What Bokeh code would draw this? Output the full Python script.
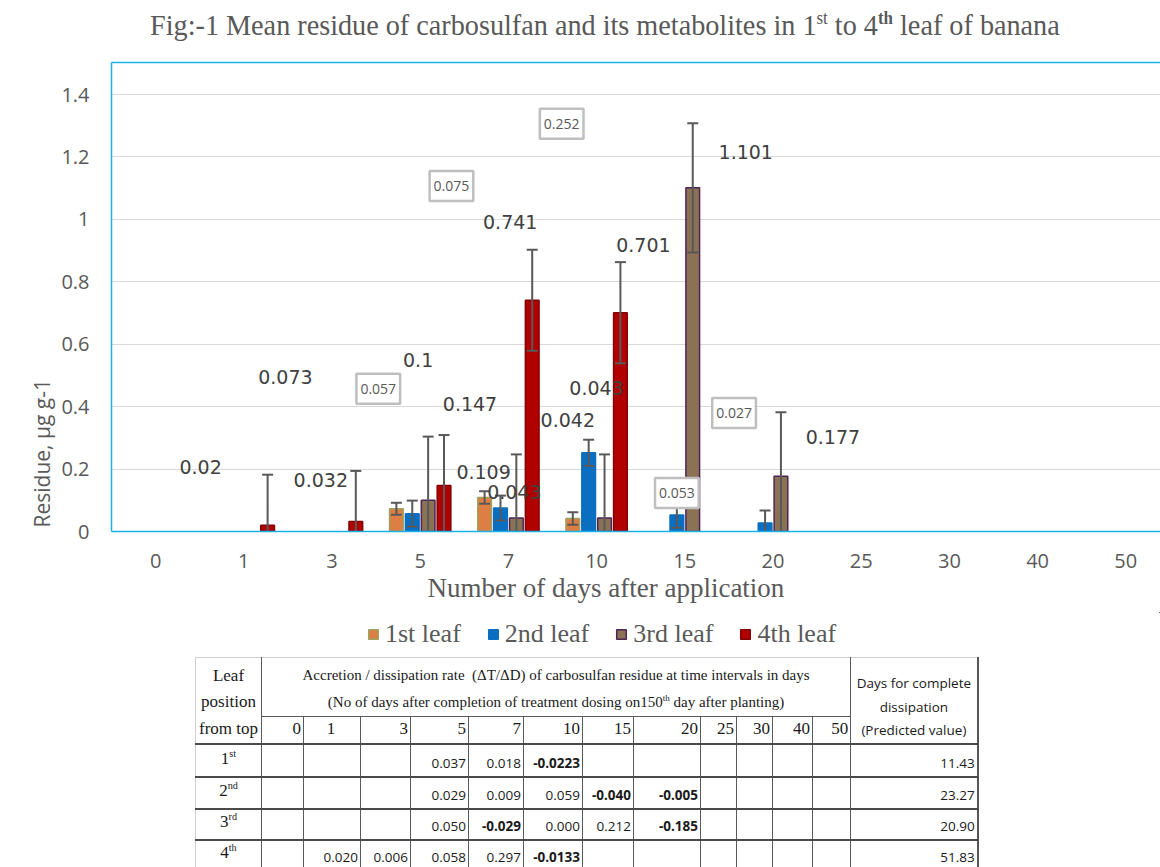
from bokeh.plotting import figure
from bokeh.models import (ColumnDataSource, Whisker, TeeHead, Label, Legend, LegendItem,
                          Div, LinearAxis, FixedTicker, Range1d, NumeralTickFormatter, Title)
from bokeh.layouts import column
from bokeh.embed import file_html
from bokeh.resources import INLINE

# ---------------- data ----------------
days = ["0", "1", "3", "5", "7", "10", "15", "20", "25", "30", "40", "50"]
leaves = ["1st leaf", "2nd leaf", "3rd leaf", "4th leaf"]

leaf_1st = [None, None, None, 0.073, 0.109, 0.042, None, None, None, None, None, None]
leaf_2nd = [None, None, None, 0.057, 0.075, 0.252, 0.053, 0.027, None, None, None, None]
leaf_3rd = [None, None, None, 0.100, 0.043, 0.043, 1.101, 0.177, None, None, None, None]
leaf_4th = [None, 0.020, 0.032, 0.147, 0.741, 0.701, None, None, None, None, None, None]

err_1st = [None, None, None, 0.019, 0.020, 0.020, None, None, None, None, None, None]
err_2nd = [None, None, None, 0.042, 0.040, 0.042, 0.041, 0.040, None, None, None, None]
err_3rd = [None, None, None, 0.204, 0.204, 0.204, 0.207, 0.205, None, None, None, None]
err_4th = [None, 0.162, 0.162, 0.162, 0.162, 0.162, None, None, None, None, None, None]

y_ticks = [0, 0.2, 0.4, 0.6, 0.8, 1.0, 1.2, 1.4]

title_main = "Fig:-1 Mean residue of carbosulfan and its metabolites in "
x_title = "Number of days after application"
y_title = "Residue, µg g-1"

# table data
row_labels = [("1", "st"), ("2", "nd"), ("3", "rd"), ("4", "th")]
rate_1st = ["", "", "", "0.037", "0.018", "-0.0223", "", "", "", "", "", ""]
rate_2nd = ["", "", "", "0.029", "0.009", "0.059", "-0.040", "-0.005", "", "", "", ""]
rate_3rd = ["", "", "", "0.050", "-0.029", "0.000", "0.212", "-0.185", "", "", "", ""]
rate_4th = ["", "0.020", "0.006", "0.058", "0.297", "-0.0133", "", "", "", "", "", ""]
days_complete = ["11.43", "23.27", "20.90", "51.83"]

# ---------------- style ----------------
BLUE = "#1DB0E6"
fills = ["#DD7F45", "#0A6FC0", "#8C7254", "#B00000"]
lines = ["#9DA35C", "#0A6FC0", "#4E2456", "#850000"]
dodge = [-0.27, -0.09, 0.09, 0.27]
bar_w = 0.155
PX_CAT = 88.2      # pixels per category
PX_UNIT = 312.14   # pixels per y unit
boxed = [False, True, False, False]

# label offsets (px) relative to bar top: series -> {day index: (dx, dy)}
label_off = [
    {3: (-111, 132), 4: (-1, 25), 5: (-5, 98)},
    {3: (-34, 125), 4: (-49, 322), 5: (-27, 329), 6: (0, 22), 7: (-31, 110)},
    {3: (-10, 140), 4: (-2, 26), 5: (-8, 130), 6: (53, 36), 7: (52, 39)},
    {1: (-67, 58), 2: (-35, 42), 3: (26, 82), 4: (-22, 78), 5: (23, 68)},
]

W = 1160
p = figure(width=W, height=562,
           x_range=Range1d(-0.5, -0.5 + (W - 111) / PX_CAT),
           y_range=Range1d(0, 469 / PX_UNIT),
           output_backend="svg", toolbar_location=None,
           min_border_left=111, min_border_right=0, min_border_top=12, min_border_bottom=81)
p.outline_line_color = None
p.background_fill_color = "white"
p.border_fill_color = "white"

p.xgrid.visible = False
p.ygrid.ticker = FixedTicker(ticks=y_ticks)
p.ygrid.grid_line_color = "#D9D9D9"
p.ygrid.grid_line_width = 1.2

p.yaxis.ticker = FixedTicker(ticks=y_ticks)
p.yaxis.formatter = NumeralTickFormatter(format="0.[0]")
p.xaxis.ticker = FixedTicker(ticks=list(range(len(days))))
p.xaxis.major_label_overrides = {i: d for i, d in enumerate(days)}
for ax in (p.xaxis, p.yaxis):
    ax.major_tick_line_color = None
    ax.minor_tick_line_color = None
    ax.major_tick_out = 0
    ax.major_tick_in = 0
    ax.axis_line_color = BLUE
    ax.axis_line_width = 1.5
    ax.major_label_text_font = "Open Sans"
    ax.major_label_text_font_size = "20px"
    ax.major_label_text_color = "#595959"
p.yaxis.major_label_standoff = 22
p.xaxis.major_label_standoff = 22

top_axis = LinearAxis(ticker=FixedTicker(ticks=[]), axis_line_color=BLUE, axis_line_width=1.5,
                      major_tick_line_color=None, minor_tick_line_color=None,
                      major_label_text_font_size="0px", major_tick_out=0, major_label_standoff=0)
p.add_layout(top_axis, "above")

series = [leaf_1st, leaf_2nd, leaf_3rd, leaf_4th]
errors = [err_1st, err_2nd, err_3rd, err_4th]
sources = []
for k, (vals, errs) in enumerate(zip(series, errors)):
    xs, tops = [], []
    wa = dict(x=[], up=[], lo=[])
    wb = dict(x=[], up=[], lo=[])
    for i, (v, e) in enumerate(zip(vals, errs)):
        if v is None:
            continue
        xs.append(i + dodge[k])
        tops.append(v)
        if v - e >= 0:
            wa["x"].append(i + dodge[k]); wa["up"].append(v + e); wa["lo"].append(v - e)
        else:
            wb["x"].append(i + dodge[k]); wb["up"].append(v + e); wb["lo"].append(0)
    src = ColumnDataSource(dict(x=xs, top=tops))
    sources.append(src)
    p.vbar(x="x", top="top", width=bar_w, source=src, fill_color=fills[k],
           line_color=lines[k], line_width=1.5)
    for wd, low_head in ((wa, True), (wb, False)):
        if not wd["x"]:
            continue
        w = Whisker(base="x", upper="up", lower="lo", source=ColumnDataSource(wd),
                    dimension="height", line_color="#595959", line_width=2, level="glyph",
                    upper_head=TeeHead(size=11, line_color="#595959", line_width=2),
                    lower_head=TeeHead(size=11, line_color="#595959", line_width=2) if low_head else None)
        p.add_layout(w)

# data labels
for k, vals in enumerate(series):
    for i, v in enumerate(vals):
        if v is None or i not in label_off[k]:
            continue
        dx, dy = label_off[k][i]
        if boxed[k]:
            lab = Label(x=i + dodge[k], y=v, x_offset=dx, y_offset=dy, text=f"{v:g}",
                        text_align="center", text_baseline="middle",
                        text_font="Open Sans", text_font_size="14px", text_color="#595959",
                        background_fill_color="white", border_line_color="#BFBFBF",
                        border_line_width=2.5, padding=(4, 10))
        else:
            lab = Label(x=i + dodge[k], y=v, x_offset=dx, y_offset=dy, text=f"{v:g}",
                        text_align="center", text_baseline="middle",
                        text_font="DejaVu Sans", text_font_size="19px", text_color="#404040")
        p.add_layout(lab)

# axis titles (side-panel titles)
p.add_layout(Title(text=x_title, align="left", offset=427 - 111, standoff=0,
                   text_font="Liberation Serif", text_font_size="27px", text_color="#595959",
                   text_font_style="normal"), "below")
p.add_layout(Title(text=y_title, align="left", offset=4, standoff=6,
                   text_font="Open Sans", text_font_size="21px", text_color="#595959",
                   text_font_style="normal"), "left")

# ---------------- legend (own strip; proxies share the bar sources, drawn off-range) ----------------
lf = figure(width=W, height=43, x_range=Range1d(-100, -99), y_range=Range1d(-100, -99),
            output_backend="svg", toolbar_location=None, x_axis_type=None, y_axis_type=None,
            min_border=0, min_border_left=0, min_border_right=0, min_border_top=0, min_border_bottom=0)
lf.outline_line_color = None
lf.xgrid.visible = False
lf.ygrid.visible = False
items = []
for k in range(4):
    r = lf.vbar(x="x", top="top", width=bar_w, source=sources[k], fill_color=fills[k],
                line_color=lines[k], line_width=1.5)
    items.append(LegendItem(label=leaves[k], renderers=[r]))
legend = Legend(items=items, orientation="horizontal", location=(367 - 111, 6),
                label_text_font="Liberation Serif", label_text_font_size="26px",
                label_text_color="#595959", glyph_width=12, glyph_height=12,
                label_standoff=6, spacing=26, padding=0, margin=0,
                border_line_color=None, background_fill_alpha=0)
lf.add_layout(legend)

# ---------------- title ----------------
title_html = (
    '<div style="width:1160px;height:50px;box-sizing:border-box;padding-left:50px;padding-top:8px;'
    'text-align:center;white-space:nowrap;">'
    '<span style="display:inline-block;transform:scaleX(0.94);transform-origin:center;'
    "font-family:'Liberation Serif',serif;font-size:30px;line-height:34px;color:#595959;\">"
    + title_main +
    '1<sup style="font-size:60%;line-height:0;">st</sup> to 4'
    '<sup style="font-size:60%;line-height:0;font-weight:bold;">th</sup> leaf of banana'
    '</span></div>'
)
title_div = Div(text=title_html, width=W, height=50, margin=(0, 0, 0, 0))

# ---------------- table ----------------
col_w = [66, 42, 57, 50, 58, 55, 59, 51, 67, 36, 36, 40, 38, 127]
V = "1.5px solid #5a5a5a"
H = "2px solid #4a4a4a"
LG = "1px solid #d0d0d0"
SERIF = "font-family:'Liberation Serif',serif;"
SANS = "font-family:'Open Sans',sans-serif;"
SUP = '<sup style="font-size:60%;line-height:0;">{}</sup>'

html = []
html.append('<div style="width:1160px;height:212px;overflow:hidden;">')
html.append('<table style="margin-left:195px;margin-top:2px;border-collapse:collapse;'
            'table-layout:fixed;width:782px;color:#1a1a1a;">')
html.append("<colgroup>" + "".join(f'<col style="width:{w}px">' for w in col_w) + "</colgroup>")
html.append('<tr style="height:31px">')
html.append(f'<td style="{SERIF}font-size:17px;text-align:center;vertical-align:bottom;padding:0 0 1px 0;'
            f'border-left:{LG};border-top:{LG};border-right:{V};">Leaf</td>')
html.append(f'<td colspan="12" style="{SERIF}font-size:15px;text-align:center;vertical-align:bottom;'
            f'padding:0 0 2px 0;border-top:{LG};border-right:{V};white-space:nowrap;">'
            "Accretion / dissipation rate&nbsp; (&Delta;T/&Delta;D) of carbosulfan residue at time intervals in days</td>")
html.append(f'<td rowspan="3" style="{SANS}font-size:13.5px;line-height:23.5px;text-align:center;'
            f'vertical-align:top;padding:14px 0 0 0;border-top:{LG};border-right:2px solid #555;'
            f'border-bottom:{H};white-space:nowrap;">Days for complete<br>dissipation<br>(Predicted value)</td>')
html.append("</tr>")
html.append('<tr style="height:27px">')
html.append(f'<td style="{SERIF}font-size:17px;text-align:center;vertical-align:middle;padding:0;'
            f'border-left:{LG};border-right:{V};">position</td>')
html.append(f'<td colspan="12" style="{SERIF}font-size:15px;text-align:center;vertical-align:middle;'
            f'padding:0;border-right:{V};border-bottom:{V};white-space:nowrap;">'
            "(No of days after completion of treatment dosing on150" + SUP.format("th") +
            " day after planting)</td>")
html.append("</tr>")
html.append('<tr style="height:27px">')
html.append(f'<td style="{SERIF}font-size:17px;text-align:center;vertical-align:middle;padding:0;'
            f'border-left:{LG};border-right:{V};border-bottom:{H};">from top</td>')
for j, d in enumerate(days):
    align = "center" if d == "1" else "right"
    html.append(f'<td style="{SERIF}font-size:17px;text-align:{align};vertical-align:middle;'
                f'padding:0 2px 0 0;border-right:{V};border-bottom:{H};">{d}</td>')
html.append("</tr>")
row_h = [33, 32, 31, 31]
for r, (rates, dc) in enumerate(zip([rate_1st, rate_2nd, rate_3rd, rate_4th], days_complete)):
    num, sup = row_labels[r]
    html.append(f'<tr style="height:{row_h[r]}px">')
    html.append(f'<td style="{SERIF}font-size:17px;text-align:center;vertical-align:bottom;'
                f'padding:0 0 4px 0;border-left:{LG};border-right:{V};border-bottom:{H};">'
                f"{num}{SUP.format(sup)}</td>")
    for val in rates:
        weight = "bold" if val.startswith("-") else "normal"
        html.append(f'<td style="{SANS}font-size:13.5px;font-weight:{weight};text-align:right;'
                    f'vertical-align:bottom;padding:0 2px 2px 0;border-right:{V};border-bottom:{H};'
                    f'white-space:nowrap;">{val}</td>')
    html.append(f'<td style="{SANS}font-size:13.5px;text-align:right;vertical-align:bottom;'
                f'padding:0 2px 2px 0;border-right:2px solid #555;border-bottom:{H};">{dc}</td>')
    html.append("</tr>")
html.append("</table></div>")
table_div = Div(text="".join(html), width=W, height=212, margin=(0, 0, 0, 0))

layout = column(title_div, p, lf, table_div, spacing=0)
open("out.html", "w").write(file_html(layout, INLINE))
